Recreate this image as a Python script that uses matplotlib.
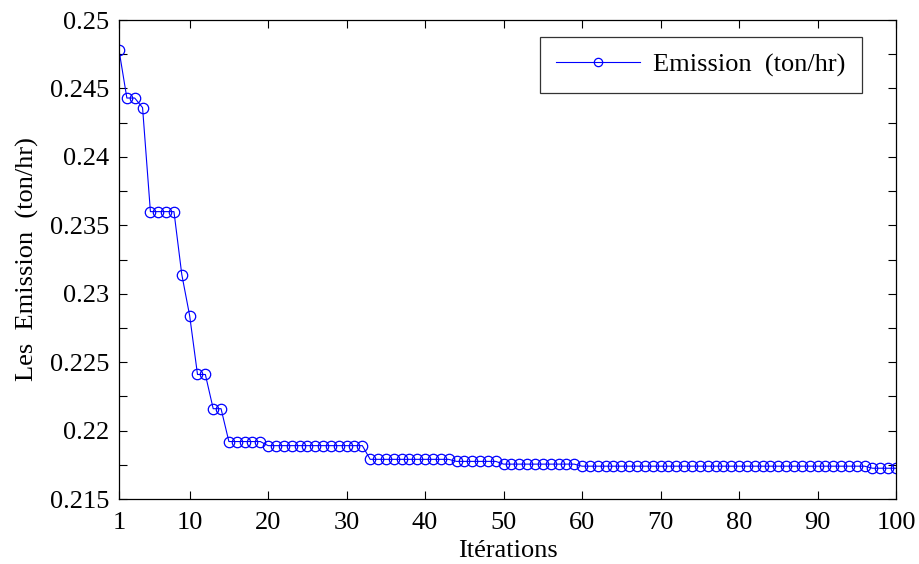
import matplotlib
matplotlib.use("Agg")
import matplotlib.pyplot as plt
from matplotlib.ticker import MultipleLocator, FixedLocator
import numpy as np

plt.rcParams['font.family'] = ['Liberation Serif', 'DejaVu Serif']
plt.rcParams['mathtext.fontset'] = 'stix'

iterations = list(range(1, 101))
emission = ([0.2478, 0.2443, 0.2443, 0.2436]
            + [0.2360] * 4
            + [0.2314, 0.2284, 0.2241, 0.2241, 0.2216, 0.2216]
            + [0.2192] * 5
            + [0.2189] * 13
            + [0.2179] * 11
            + [0.21775] * 6
            + [0.21755] * 10
            + [0.2174] * 37
            + [0.21725] * 4)
x_ticks = [1, 10, 20, 30, 40, 50, 60, 70, 80, 90, 100]
y_ticks = [0.215, 0.22, 0.225, 0.23, 0.235, 0.24, 0.245, 0.25]
y_labels = ['0.215', '0.22', '0.225', '0.23', '0.235', '0.24', '0.245', '0.25']

fig = plt.figure(figsize=(9.19, 5.64), dpi=100)
ax = fig.add_axes([0.1295, 0.1152, 0.8455, 0.8493])

ax.plot(iterations, emission, color=(0, 0, 1), linewidth=0.8, marker='o',
        markersize=7.5, markerfacecolor='none', markeredgewidth=0.9,
        label='Emission  (ton/hr)')

ax.set_xlim(1, 100)
ax.set_ylim(0.215, 0.25)
ax.xaxis.set_major_locator(FixedLocator(x_ticks))
ax.set_xticklabels([str(t) for t in x_ticks])
ax.yaxis.set_major_locator(FixedLocator(y_ticks))
ax.set_yticklabels(y_labels)
ax.yaxis.set_minor_locator(MultipleLocator(0.0025))

ax.tick_params(which='both', direction='in', top=True, right=True,
               labelsize=19, width=0.8)
ax.tick_params(axis='x', pad=9)
ax.tick_params(axis='y', pad=7)
ax.tick_params(which='major', length=6)
ax.tick_params(which='minor', length=6)
for s in ax.spines.values():
    s.set_linewidth(0.9)

ax.set_xlabel('Itérations', fontsize=19, labelpad=5)
ax.set_ylabel('Les  Emission  (ton/hr)', fontsize=19, labelpad=8)

leg = ax.legend(loc='upper right', bbox_to_anchor=(0.966, 0.981), fontsize=19,
                frameon=True, fancybox=False, edgecolor='black',
                handlelength=3.2, borderpad=0.6, handletextpad=0.5,
                borderaxespad=0.3)
leg.get_frame().set_linewidth(0.9)
for h in leg.legend_handles:
    h.set_markersize(6)

fig.savefig('out.png', dpi=100)
